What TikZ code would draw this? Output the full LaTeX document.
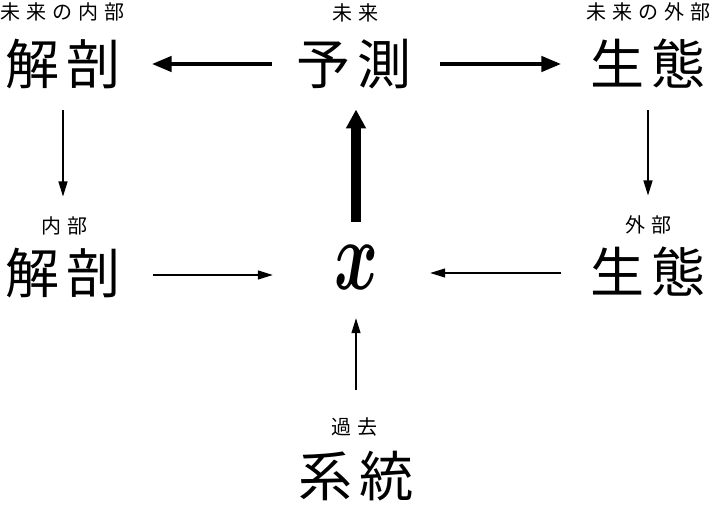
\documentclass[tikz,border=0pt]{standalone}
\usepackage{fontspec}
\usepackage{amsmath}
\newfontfamily\jp{Noto Sans CJK JP}
\usetikzlibrary{arrows.meta}
\tikzset{
  bigjp/.style={font=\jp\fontsize{54}{54}\selectfont, inner sep=0pt, text height=44.8pt, text depth=3.8pt},
  smalljp/.style={font=\jp\fontsize{20}{20}\selectfont, inner sep=0pt, text height=16.6pt, text depth=1.4pt},
  thickarrow/.style={line width=4.5pt, -{Triangle[length=20pt,width=15pt]}},
  heavyarrow/.style={line width=10pt, -{Triangle[length=19pt,width=19pt]}},
  thinarrow/.style={line width=1.3pt, -{Triangle[length=15pt,width=9pt]}}
}
\newcommand{\bg}{\kern7pt}
\newcommand{\sg}{\kern6pt}
\begin{document}
\begin{tikzpicture}[x=1pt,y=-1pt]
\useasboundingbox (0,0) rectangle (720,518);
% small labels
\node[smalljp] (l1) at (63,12) {未\sg 来\sg の\sg 内\sg 部};
\node[smalljp] (l2) at (355,13) {未\sg 来};
\node[smalljp] (l3) at (648,12) {未\sg 来\sg の\sg 外\sg 部};
\node[smalljp] (l4) at (64,226) {内\sg 部};
\node[smalljp] (l5) at (648,225) {外\sg 部};
\node[smalljp] (l6) at (354,427) {過\sg 去};
% big labels
\node[bigjp] (kaiT) at (63,64) {解\bg 剖};
\node[bigjp] (yosoku) at (354,64) {予\bg 測};
\node[bigjp] (seiT) at (648,64) {生\bg 態};
\node[bigjp] (kaiM) at (63,273) {解\bg 剖};
\node[bigjp] (seiM) at (648,272) {生\bg 態};
\node[bigjp] (keito) at (356,476) {系\bg 統};
\node[inner sep=0pt] (xn) at (356,267) {\resizebox{44pt}{44pt}{$\boldsymbol{x}$}};
% arrows
\draw[thickarrow, shorten <=24pt, shorten >=31pt] (yosoku.west) -- (kaiT.east);
\draw[thickarrow, shorten <=28pt, shorten >=29pt] (yosoku.east) -- (seiT.west);
\draw[heavyarrow, shorten <=23pt, shorten >=21pt] (xn.north) -- (xn.north |- yosoku.south);
\draw[thinarrow, shorten <=22pt, shorten >=52pt] (kaiT.south) -- (kaiM.north);
\draw[thinarrow, shorten <=22pt, shorten >=52pt] (seiT.south) -- (seiM.north);
\draw[thinarrow, shorten <=32pt, shorten >=61pt] ([yshift=-2pt]kaiM.east) -- ([yshift=-2pt]kaiM.east -| xn.west);
\draw[thinarrow, shorten <=29pt, shorten >=52pt] ([yshift=-1pt]seiM.west) -- ([yshift=-1pt]seiM.west -| xn.east);
\draw[thinarrow, shorten <=62pt, shorten >=29pt] (keito.north) -- (xn.south);
\end{tikzpicture}
\end{document}
